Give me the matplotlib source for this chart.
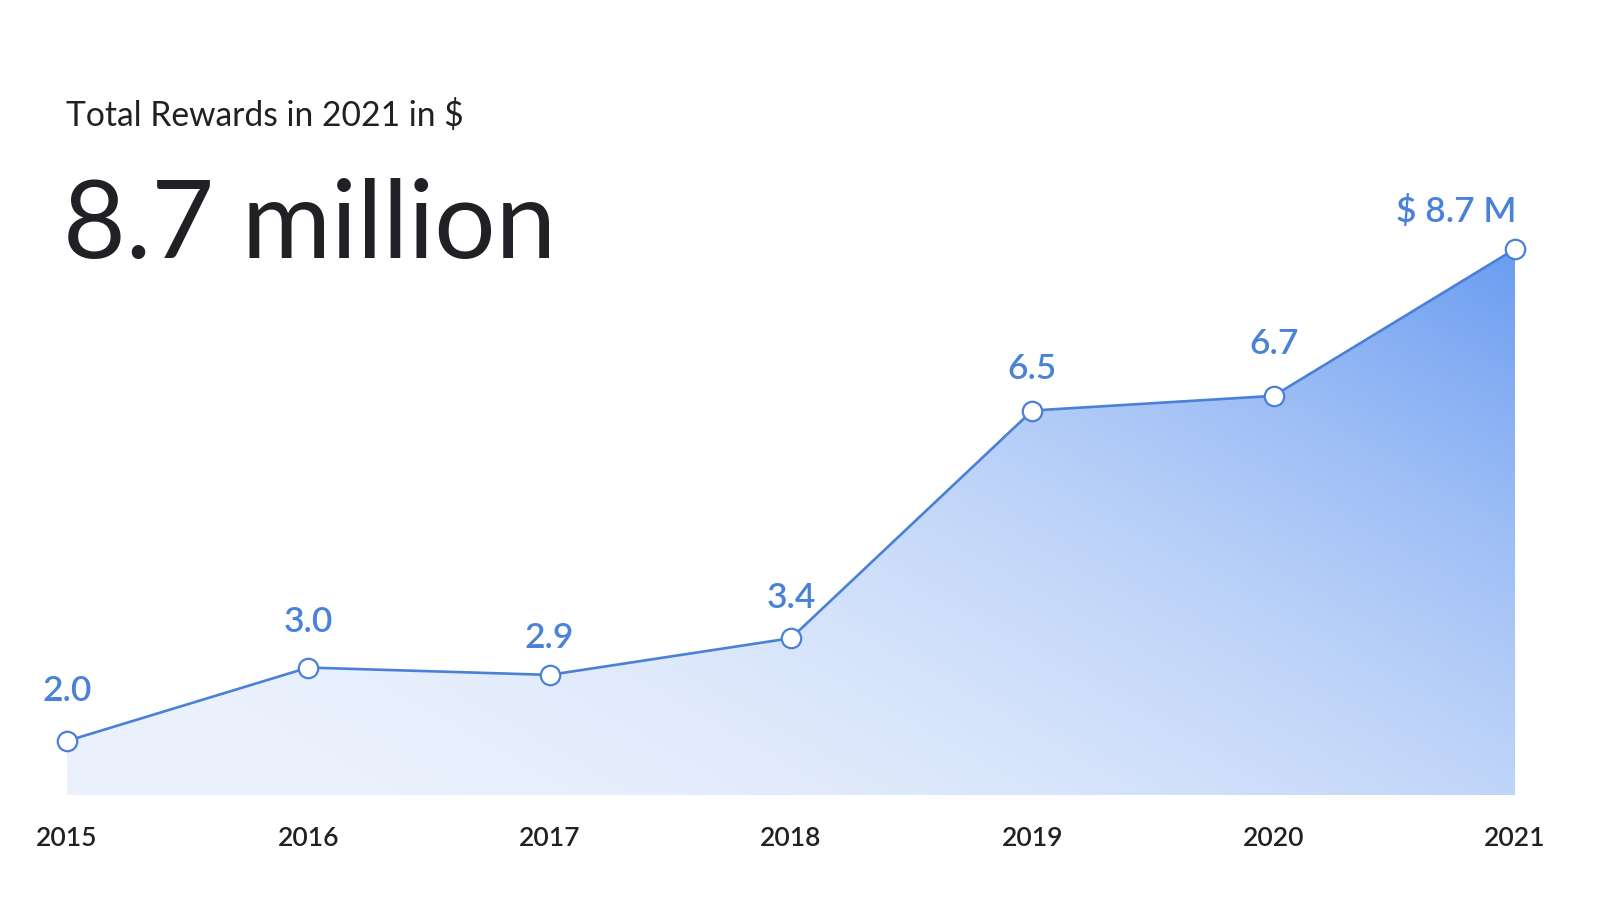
import numpy as np
import matplotlib
matplotlib.use("Agg")
import matplotlib.pyplot as plt
from matplotlib.colors import to_rgb

# ---- data ----
years = [2015, 2016, 2017, 2018, 2019, 2020, 2021]
rewards = [2.0, 3.0, 2.9, 3.4, 6.5, 6.7, 8.7]
value_labels = ["2.0", "3.0", "2.9", "3.4", "6.5", "6.7", "$ 8.7 M"]
tick_labels = ["2015", "2016", "2017", "2018", "2019", "2020", "2021"]
subtitle = "Total Rewards in 2021 in $"
headline = "8.7 million"

# ---- layout / style ----
W, H = 1600, 902
label_offsets_px = [40, 36, 27, 30, 32, 42, 27]
FONT = ["Lato", "DejaVu Sans"]
BLUE_TXT = "#4a82d9"
BLUE_LINE = "#4a80d6"
DARK = "#202124"
LIGHT_FILL = "#ecf2fd"
DEEP_FILL = "#6a9cf1"
y_base = 1.2643

plt.rcParams['font.family'] = FONT
fig = plt.figure(figsize=(W / 100, H / 100), dpi=100)
fig.patch.set_facecolor("white")

ax_l, ax_r, ax_b, ax_t = 67, 1515, 795, 249
ax = fig.add_axes([ax_l / W, (H - ax_b) / H, (ax_r - ax_l) / W, (ax_b - ax_t) / H])
ax.set_xlim(years[0], years[-1])
ax.set_ylim(y_base, rewards[-1])
ax.axis("off")

# gradient fill clipped to the area under the line
poly = ax.fill_between(years, rewards, y_base, color="none", lw=0)
nx, ny = 400, 300
xf = np.linspace(0, 1, nx)[None, :]
yf = np.linspace(0, 1, ny)[:, None]
t = np.clip(0.6 * xf + 0.4 * yf, 0, 1) ** 2.1
c0 = np.array(to_rgb(LIGHT_FILL))
c1 = np.array(to_rgb(DEEP_FILL))
img = c0[None, None, :] + (c1 - c0)[None, None, :] * t[:, :, None]
im = ax.imshow(img, extent=[years[0], years[-1], y_base, rewards[-1]],
               origin="lower", aspect="auto", zorder=1, interpolation="bilinear")
path = poly.get_paths()[0]
im.set_clip_path(path, transform=ax.transData)

ax.plot(years, rewards, color=BLUE_LINE, lw=1.9, zorder=3, clip_on=False,
        solid_capstyle="round")
ax.plot(years, rewards, ls="none", marker="o", ms=14, mfc="white",
        mec=BLUE_LINE, mew=1.6, zorder=4, clip_on=False)

for i, (x, v, lab) in enumerate(zip(years, rewards, value_labels)):
    last = i == len(years) - 1
    ax.annotate(lab, (x, v), xytext=(2 * 0.72 if last else 0, label_offsets_px[i] * 0.72),
                textcoords="offset points", ha="right" if last else "center",
                va="baseline", fontsize=25.5, color=BLUE_TXT, fontweight="semibold",
                annotation_clip=False)

for x, lab in zip(years, tick_labels):
    ax.annotate(lab, (x, y_base), xytext=(0, -(846 - 795) * 0.72),
                textcoords="offset points", ha="center", va="baseline",
                fontsize=19, color=DARK, fontweight="semibold", annotation_clip=False)

fig.text(66 / W, 1 - 126 / H, subtitle, fontsize=24.2, color=DARK,
         ha="left", va="baseline")
fig.text(63 / W, 1 - 258 / H, headline, fontsize=78, color=DARK,
         ha="left", va="baseline")

fig.savefig("out.png", dpi=100, facecolor="white")
